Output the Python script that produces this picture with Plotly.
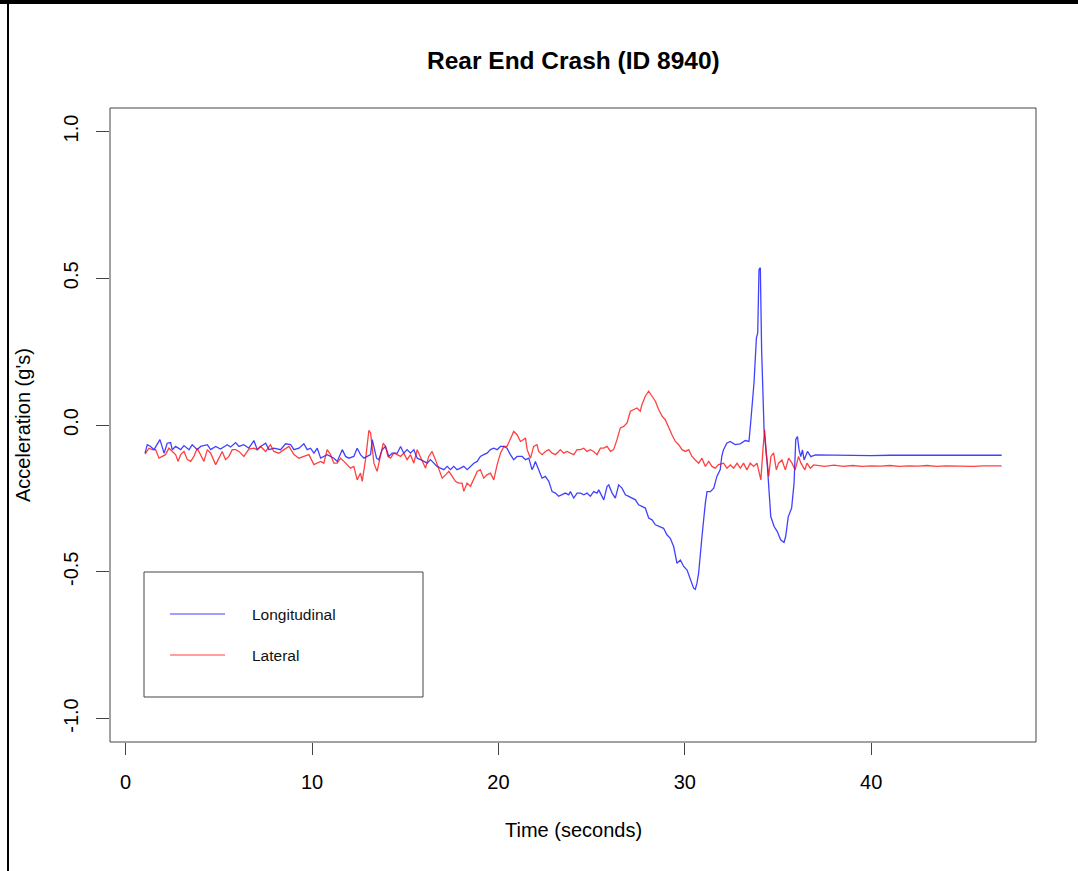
import plotly.graph_objects as go

# ---------------- data ----------------
long_t = [1.04, 1.16, 1.34, 1.52, 1.84, 1.97, 2.06, 2.23, 2.41, 2.50, 2.68, 2.95, 3.13, 3.40, 3.57, 3.84,
          4.02, 4.38, 4.56, 4.83, 5.09, 5.45, 5.63, 5.90, 6.08, 6.34, 6.61, 6.88, 7.06, 7.24, 7.51, 7.69,
          7.95, 8.31, 8.58, 8.85, 9.03, 9.30, 9.56, 9.74, 9.92, 10.10, 10.28, 10.46,
          10.63, 10.81, 10.99, 11.17, 11.35, 11.53, 11.62, 11.80, 11.97, 12.24, 12.42, 12.60, 12.78, 12.96,
          13.14, 13.23, 13.32, 13.46, 13.58, 13.76, 13.94, 14.12, 14.30, 14.57, 14.75, 14.92, 15.10, 15.28,
          15.46, 15.64, 15.82, 16.00, 16.18, 16.35, 16.53, 16.71, 16.89, 17.07, 17.25, 17.43, 17.60, 17.78,
          17.96, 18.14, 18.32, 18.50, 18.68, 18.86, 19.03, 19.21, 19.39, 19.57, 19.75, 19.93, 20.11, 20.29,
          20.46, 20.64, 20.82, 21.00, 21.18,
          21.27, 21.45, 21.63, 21.80, 21.89, 21.98, 22.16, 22.34, 22.52, 22.70, 22.88, 23.06, 23.23, 23.41,
          23.59, 23.77, 23.86, 24.04, 24.22, 24.40, 24.58, 24.75, 24.93, 25.11, 25.29, 25.38, 25.56, 25.65,
          25.83, 25.92, 26.10, 26.27, 26.36, 26.45, 26.63, 26.81, 26.99, 27.17, 27.35, 27.52, 27.70, 27.88,
          28.06, 28.24, 28.42, 28.60, 28.86, 29.04, 29.22, 29.40, 29.58, 29.76, 29.94, 30.12, 30.29, 30.47,
          30.56, 30.65, 30.74, 30.83, 30.92, 31.10, 31.19, 31.37, 31.55, 31.72, 31.90,
          31.98, 32.07, 32.25, 32.43, 32.70, 32.97, 33.24, 33.44, 33.53, 33.71, 33.84, 33.91, 33.98, 34.05,
          34.12, 34.25, 34.43, 34.61, 34.79, 34.96, 35.14, 35.32, 35.41, 35.55, 35.73, 35.86, 35.95, 36.04,
          36.13, 36.22, 36.31, 36.40, 36.58, 36.76, 37.00, 38.0, 39.0, 40.0, 41.0, 42.0, 43.0, 44.0, 45.0,
          46.0, 47.0]
long_g = [-0.096, -0.067, -0.073, -0.084, -0.050, -0.073, -0.096, -0.062, -0.060, -0.084, -0.073, -0.084,
          -0.070, -0.084, -0.067, -0.084, -0.073, -0.067, -0.084, -0.073, -0.082, -0.067, -0.075, -0.060,
          -0.073, -0.067, -0.079, -0.053, -0.084, -0.073, -0.062, -0.084, -0.079, -0.084, -0.064, -0.067,
          -0.084, -0.079, -0.064, -0.084, -0.079, -0.096, -0.079, -0.113,
          -0.107, -0.101, -0.107, -0.113, -0.124, -0.101, -0.084, -0.107, -0.113, -0.107, -0.079, -0.101,
          -0.113, -0.107, -0.101, -0.050, -0.079, -0.113, -0.118, -0.084, -0.073, -0.107, -0.096, -0.096,
          -0.073, -0.096, -0.084, -0.096, -0.084, -0.113, -0.118, -0.124, -0.130, -0.118, -0.130, -0.141,
          -0.147, -0.152, -0.141, -0.152, -0.141, -0.152, -0.147, -0.141, -0.152, -0.141, -0.130, -0.124,
          -0.107, -0.101, -0.096, -0.084, -0.079, -0.084, -0.073, -0.073, -0.079, -0.101, -0.118, -0.107,
          -0.107,
          -0.107, -0.118, -0.113, -0.152, -0.141, -0.124, -0.152, -0.181, -0.175, -0.192, -0.227, -0.232,
          -0.243, -0.238, -0.232, -0.238, -0.227, -0.249, -0.232, -0.232, -0.238, -0.232, -0.243, -0.227,
          -0.232, -0.221, -0.243, -0.255, -0.209, -0.204, -0.232, -0.249, -0.227, -0.204, -0.215, -0.238,
          -0.243, -0.249, -0.255, -0.272, -0.278, -0.283, -0.317, -0.323, -0.340, -0.346, -0.352, -0.374,
          -0.386, -0.414, -0.471, -0.460, -0.482, -0.494, -0.522, -0.556, -0.560, -0.539, -0.505, -0.437,
          -0.380, -0.266, -0.227, -0.227, -0.215, -0.175, -0.152,
          -0.108, -0.085, -0.062, -0.056, -0.067, -0.064, -0.053, -0.056, 0.006, 0.143, 0.297, 0.314,
          0.530, 0.536, 0.257, -0.016, -0.141, -0.312, -0.346, -0.363, -0.391, -0.400, -0.380, -0.312,
          -0.283, -0.198, -0.050, -0.039, -0.085, -0.108, -0.085, -0.119, -0.090, -0.108, -0.102, -0.103,
          -0.103, -0.104, -0.103, -0.103, -0.103, -0.103, -0.103, -0.103, -0.103]

lat_t = [1.04, 1.25, 1.43, 1.61, 1.79, 1.97, 2.14, 2.32, 2.50, 2.68, 2.81, 2.95, 3.13, 3.31, 3.49, 3.66,
         3.84, 4.02, 4.20, 4.38, 4.56, 4.83, 5.00, 5.18, 5.36, 5.54, 5.72, 5.90, 6.08, 6.34, 6.61, 6.88,
         7.06, 7.24, 7.51, 7.77, 7.95, 8.22, 8.49, 8.76, 9.03, 9.30, 9.56, 9.83, 10.10, 10.28, 10.46,
         10.63, 10.81, 10.99, 11.17, 11.35, 11.53, 11.71, 11.89, 12.06, 12.24, 12.42, 12.60, 12.69, 12.87,
         13.05, 13.14, 13.23, 13.32, 13.49, 13.67, 13.82, 13.94, 14.07, 14.21, 14.39, 14.57, 14.75, 14.92,
         15.10, 15.28, 15.46, 15.64, 15.82, 16.00, 16.09, 16.26, 16.44, 16.62, 16.80, 16.98, 17.16, 17.34,
         17.52, 17.69, 17.87, 18.05, 18.14, 18.32, 18.50, 18.68, 18.86, 19.03, 19.21, 19.39, 19.57, 19.75,
         19.93, 20.11, 20.29, 20.46, 20.64, 20.82, 21.00, 21.18,
         21.27, 21.45, 21.54, 21.63, 21.72, 21.89, 22.07, 22.16, 22.34, 22.52, 22.70, 22.88, 23.06, 23.23,
         23.32, 23.50, 23.68, 23.86, 24.04, 24.22, 24.40, 24.58, 24.75, 24.93, 25.11, 25.29, 25.47, 25.65,
         25.83, 26.01, 26.18, 26.36, 26.54, 26.72, 26.90, 27.08, 27.26, 27.43, 27.61, 27.70, 27.88, 28.06,
         28.24, 28.42, 28.60, 28.78, 28.95, 29.13, 29.31, 29.49, 29.67, 29.85, 30.03, 30.21, 30.38, 30.56,
         30.74, 30.92, 31.10, 31.28, 31.46, 31.63, 31.81,
         32.08, 32.26, 32.44, 32.62, 32.80, 32.98, 33.15, 33.33, 33.51, 33.69, 33.87, 33.96, 34.08, 34.19,
         34.28, 34.37, 34.50, 34.62, 34.76, 34.91, 35.03, 35.21, 35.39, 35.57, 35.75, 35.92, 36.10, 36.23,
         36.44, 36.55, 36.73, 36.91, 37.5, 38.0, 38.5, 39.0, 39.5, 40.0, 40.5, 41.0, 41.5, 42.0, 42.5,
         43.0, 43.5, 44.0, 44.5, 45.0, 45.5, 46.0, 46.5, 47.0]
lat_g = [-0.099, -0.079, -0.084, -0.084, -0.113, -0.107, -0.101, -0.079, -0.090, -0.101, -0.124, -0.101,
         -0.090, -0.118, -0.124, -0.107, -0.079, -0.101, -0.124, -0.084, -0.096, -0.135, -0.113, -0.090,
         -0.118, -0.107, -0.084, -0.084, -0.090, -0.107, -0.082, -0.079, -0.084, -0.073, -0.090, -0.067,
         -0.090, -0.096, -0.084, -0.073, -0.101, -0.113, -0.107, -0.101, -0.135, -0.130, -0.124,
         -0.130, -0.084, -0.101, -0.130, -0.130, -0.113, -0.124, -0.135, -0.147, -0.141, -0.187, -0.164,
         -0.192, -0.118, -0.018, -0.027, -0.073, -0.130, -0.158, -0.107, -0.062, -0.073, -0.107, -0.113,
         -0.096, -0.101, -0.107, -0.096, -0.118, -0.101, -0.130, -0.084, -0.107, -0.130, -0.147, -0.107,
         -0.090, -0.118, -0.152, -0.181, -0.170, -0.158, -0.175, -0.192, -0.198, -0.198, -0.226, -0.198,
         -0.209, -0.181, -0.158, -0.152, -0.181, -0.170, -0.164, -0.187, -0.135, -0.096, -0.073, -0.073,
         -0.050, -0.022, -0.033, -0.056,
         -0.053, -0.044, -0.084, -0.101, -0.113, -0.073, -0.067, -0.090, -0.101, -0.090, -0.084, -0.096,
         -0.101, -0.090, -0.084, -0.096, -0.090, -0.096, -0.101, -0.084, -0.084, -0.079, -0.090, -0.084,
         -0.090, -0.101, -0.079, -0.079, -0.073, -0.090, -0.084, -0.050, -0.010, -0.005, 0.007, 0.047,
         0.052, 0.058, 0.047, 0.070, 0.098, 0.115, 0.098, 0.081, 0.052, 0.030, 0.018, -0.010, -0.033,
         -0.056, -0.067, -0.084, -0.090, -0.084, -0.107, -0.119, -0.130, -0.113, -0.141, -0.124, -0.141,
         -0.147, -0.135,
         -0.130, -0.147, -0.136, -0.147, -0.130, -0.147, -0.130, -0.153, -0.130, -0.141, -0.130, -0.153,
         -0.187, -0.084, -0.016, -0.095, -0.175, -0.107, -0.095, -0.153, -0.130, -0.119, -0.153, -0.113,
         -0.130, -0.153, -0.107, -0.130, -0.153, -0.130, -0.147, -0.136, -0.141, -0.137, -0.141, -0.138,
         -0.141, -0.139, -0.140, -0.138, -0.141, -0.139, -0.140, -0.138, -0.141, -0.139, -0.140, -0.139,
         -0.141, -0.139, -0.140, -0.139, -0.140, -0.139]

series_names = ["Longitudinal", "Lateral"]
series_colors = ["rgba(0,0,255,0.75)", "rgba(255,0,0,0.75)"]
legend_colors = ["rgba(0,0,255,0.5)", "rgba(255,0,0,0.5)"]
x_ticks = [0, 10, 20, 30, 40]
y_ticks = [-1.0, -0.5, 0.0, 0.5, 1.0]
y_tick_text = ["-1.0", "-0.5", "0.0", "0.5", "1.0"]

# ---------------- layout geometry (pixels) ----------------
W, H = 1078, 871
L, R, T, B = 110, 1036, 108, 742
FONT = "Liberation Sans, Arial, Helvetica, sans-serif"


def px(xp):
    return (xp - L) / (R - L)


def py(yp):
    return (B - yp) / (B - T)


fig = go.Figure()
fig.add_trace(go.Scatter(x=long_t, y=long_g, mode="lines", name=series_names[0],
                         line=dict(color=series_colors[0], width=1.3), showlegend=False))
fig.add_trace(go.Scatter(x=lat_t, y=lat_g, mode="lines", name=series_names[1],
                         line=dict(color=series_colors[1], width=1.3), showlegend=False))

shapes = []
# plot box
shapes.append(dict(type="rect", xref="paper", yref="paper", x0=0, x1=1, y0=0, y1=1,
                   line=dict(color="#444", width=1)))
# outer frame (top and left black lines)
shapes.append(dict(type="line", xref="paper", yref="paper", x0=px(0), x1=px(W), y0=py(2), y1=py(2),
                   line=dict(color="black", width=4)))
shapes.append(dict(type="line", xref="paper", yref="paper", x0=px(8), x1=px(8), y0=py(0), y1=py(H),
                   line=dict(color="black", width=2)))
# legend box
shapes.append(dict(type="rect", xref="paper", yref="paper", x0=px(144), x1=px(423), y0=py(572), y1=py(697),
                   line=dict(color="#444", width=1)))
legend_y = [614, 655]
for i in range(2):
    shapes.append(dict(type="line", xref="paper", yref="paper", x0=px(170), x1=px(225),
                       y0=py(legend_y[i]), y1=py(legend_y[i]),
                       line=dict(color=legend_colors[i], width=1.5)))

annotations = []
for i in range(2):
    annotations.append(dict(text=series_names[i], xref="paper", yref="paper", x=px(250), y=py(legend_y[i]),
                            xanchor="left", yanchor="middle", showarrow=False,
                            font=dict(family=FONT, size=15.5, color="#111")))
annotations.append(dict(text="<b>Rear End Crash (ID 8940)</b>", xref="paper", yref="paper",
                        x=px(573), y=py(60), xanchor="center", yanchor="middle", showarrow=False,
                        font=dict(family=FONT, size=24.5, color="black")))
annotations.append(dict(text="Time (seconds)", xref="paper", yref="paper",
                        x=px(573), y=py(830), xanchor="center", yanchor="middle", showarrow=False,
                        font=dict(family=FONT, size=20, color="black")))
annotations.append(dict(text="Acceleration (g's)", xref="paper", yref="paper", textangle=-90,
                        x=px(23), y=py(425), xanchor="center", yanchor="middle", showarrow=False,
                        font=dict(family=FONT, size=20, color="black")))

fig.update_layout(
    width=W, height=H,
    margin=dict(l=L, r=W - R, t=T, b=H - B, pad=0),
    paper_bgcolor="white", plot_bgcolor="white",
    shapes=shapes, annotations=annotations,
    showlegend=False,
    xaxis=dict(range=[-0.84, 48.84], tickvals=x_ticks, ticktext=[str(v) for v in x_ticks],
               ticks="outside", ticklen=12, tickcolor="#444", tickwidth=1,
               showgrid=False, zeroline=False, showline=False,
               tickfont=dict(family=FONT, size=20, color="black"), ticklabelstandoff=10),
    yaxis=dict(range=[-1.08, 1.08], tickvals=y_ticks, ticktext=y_tick_text, tickangle=-90,
               ticks="outside", ticklen=13, tickcolor="#444", tickwidth=1,
               showgrid=False, zeroline=False, showline=False,
               tickfont=dict(family=FONT, size=20, color="black"), ticklabelstandoff=10),
)

fig.write_html("out.html")
